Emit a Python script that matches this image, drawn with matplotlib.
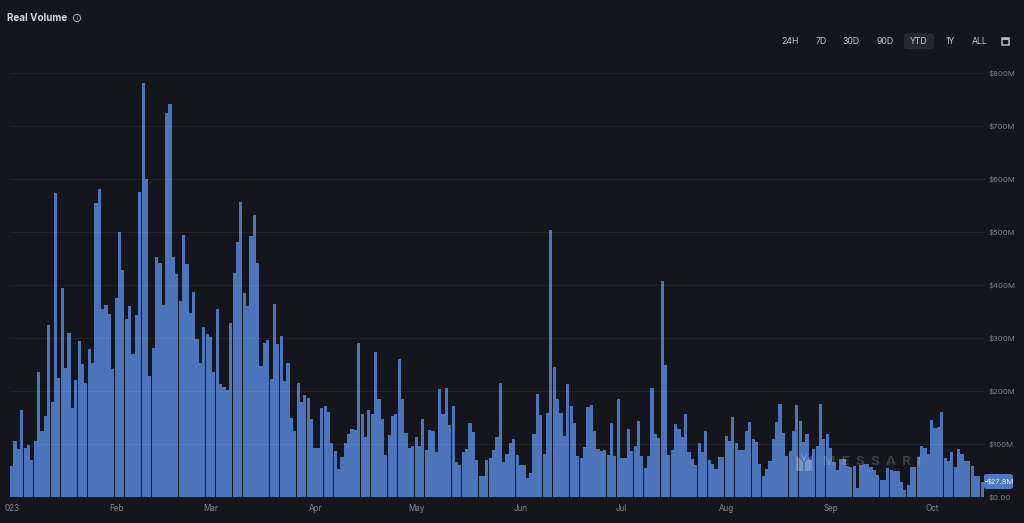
import matplotlib
matplotlib.use('Agg')
import matplotlib.pyplot as plt
import matplotlib.dates as mdates
import pandas as pd
from matplotlib.patches import Circle, FancyBboxPatch, Polygon, Rectangle

plt.rcParams['font.family'] = ['Inter', 'DejaVu Sans']

W, H = 1024, 523
BG = '#14161b'
BAR = '#4b74bb'

# daily real volume in $M, one value per day from Jan 1 2023
jan = [59, 106, 90, 165, 93, 99, 70, 105, 235, 125, 152, 325, 180, 573, 224, 394,
       244, 310, 167, 221, 294, 251, 216, 279, 252, 554, 582, 355, 362, 345, 241]
feb = [375, 500, 428, 335, 361, 270, 344, 575, 782, 600, 228, 281, 452, 442, 362,
       725, 741, 452, 420, 369, 494, 440, 347, 387, 299, 252, 321, 307]
mar = [302, 236, 355, 214, 207, 202, 328, 422, 481, 557, 384, 360, 492, 532, 441,
       248, 290, 296, 222, 365, 288, 304, 219, 253, 149, 125, 215, 179, 192, 186, 148]
apr = [93, 93, 167, 171, 160, 102, 86, 53, 75, 101, 118, 128, 127, 291, 156, 114,
       165, 156, 274, 185, 148, 79, 117, 152, 157, 260, 184, 121, 93, 96]
may = [113, 96, 148, 89, 127, 124, 84, 203, 156, 206, 135, 172, 66, 60, 85, 91,
       140, 123, 70, 40, 40, 69, 74, 89, 113, 215, 66, 82, 101, 110, 80]
jun = [61, 61, 35, 46, 118, 195, 155, 82, 159, 504, 245, 185, 158, 116, 213, 172,
       140, 77, 74, 94, 170, 174, 124, 91, 86, 88, 79, 140, 77, 184]
jul = [74, 74, 128, 87, 97, 143, 77, 55, 77, 206, 119, 111, 408, 250, 79, 88, 137,
       129, 113, 157, 84, 71, 61, 102, 84, 124, 69, 63, 52, 76, 76]
aug = [116, 105, 151, 101, 89, 88, 125, 142, 109, 103, 62, 40, 52, 68, 110, 142,
       175, 120, 78, 87, 125, 173, 144, 104, 119, 70, 90, 96, 176, 110, 118]
sep = [92, 66, 51, 72, 72, 58, 57, 58, 17, 60, 62, 62, 56, 51, 41, 32, 32, 54, 51,
       49, 49, 28, 14, 22, 57, 56, 76, 96, 92, 82]
oct_ = [146, 131, 132, 160, 73, 68, 84, 57, 90, 81, 68, 68, 58, 40, 40, 27.8]
volume = jan + feb + mar + apr + may + jun + jul + aug + sep + oct_
days = pd.date_range('2023-01-01', periods=len(volume))

y_ticks = [0, 100, 200, 300, 400, 500, 600, 700, 800]
y_labels = ['$0.00', '$100M', '$200M', '$300M', '$400M', '$500M', '$600M', '$700M', '$800M']
month_ticks = ['2023-01-01', '2023-02-01', '2023-03-01', '2023-04-01', '2023-05-01',
               '2023-06-01', '2023-07-01', '2023-08-01', '2023-09-01', '2023-10-01']
month_labels = ['023', 'Feb', 'Mar', 'Apr', 'May', 'Jun', 'Jul', 'Aug', 'Sep', 'Oct']
ranges = ['24H', '7D', '30D', '90D', 'YTD', '1Y', 'ALL']
range_x = [790, 821, 851, 885, 919, 950, 980]


def fx(x):
    return x / W


def fy(y):
    return 1 - y / H


fig = plt.figure(figsize=(W / 100, H / 100), dpi=100, facecolor=BG)
ax = fig.add_axes([fx(10), fy(497), (985 - 10) / W, (497 - 73) / H], facecolor=BG)

ax.bar(days, volume, width=0.94, color=BAR, linewidth=0)

start = mdates.date2num(days[0])
ax.set_xlim(start - 0.5, start - 0.5 + 975 / 3.37)
ax.set_ylim(0, 800)

ax.yaxis.tick_right()
ax.set_yticks(y_ticks)
ax.set_yticklabels(y_labels)
ax.set_xticks(pd.to_datetime(month_ticks))
ax.set_xticklabels(month_labels)
ax.tick_params(axis='y', length=0, pad=2.5, labelsize=5.6, labelcolor='#7f8288')
ax.tick_params(axis='x', length=0, pad=5, labelsize=5.8, labelcolor='#85888e')

ax.set_axisbelow(False)
ax.grid(axis='y', color='white', alpha=0.06, linewidth=0.7)
for s in ax.spines.values():
    s.set_visible(False)

# header
fig.text(fx(7), fy(18), 'Real Volume', color='#d6d8da', fontsize=7.1, fontweight='bold', va='center')
fig.add_artist(Circle((77, H - 18), 3.6, transform=None, fill=False, ec='#9a9da2', lw=0.8))
fig.text(fx(77), fy(18), 'i', color='#9a9da2', fontsize=4.5, ha='center', va='center')

# range buttons
fig.add_artist(FancyBboxPatch((904, H - 49), 30, 16, boxstyle='round,pad=0,rounding_size=3',
                              transform=None, fc='#26282e', ec='none'))
for label, x in zip(ranges, range_x):
    fig.text(fx(x), fy(41.5), label, color='#c4c6c9', fontsize=6.3, ha='center', va='center')
fig.add_artist(Rectangle((1002, H - 45), 7, 7, transform=None, fc=BG, ec='#b8babd', lw=1.1))
fig.add_artist(Rectangle((1002, H - 40), 7, 2, transform=None, fc='#b8babd', ec='none'))

# watermark
logo = [[(796, 455), (803, 462), (803, 471), (796, 471)],
        [(805, 462), (812, 455), (812, 471), (805, 471)],
        [(800, 452), (804, 458), (808, 452), (804, 462)]]
for pts in logo:
    fig.add_artist(Polygon([(x, H - y) for x, y in pts], transform=None, fc='white', alpha=0.25, ec='none'))
fig.text(fx(872), fy(462), 'M  E  S  S  A  R  I', color='white', alpha=0.17, fontsize=9.6,
         fontweight='bold', ha='center', va='center')

# last value flag
fig.add_artist(FancyBboxPatch((984, H - 489), 29, 15, boxstyle='round,pad=0,rounding_size=2.5',
                              transform=None, fc='#4f78c0', ec='none'))
fig.text(fx(1000), fy(481.5), '$27.8M', color='#e8edf6', fontsize=5.4, ha='center', va='center')
fig.add_artist(Rectangle((985, H - 482), 2.5, 1, transform=None, fc='white', ec='none'))

fig.savefig('out.png', dpi=100, facecolor=BG)
